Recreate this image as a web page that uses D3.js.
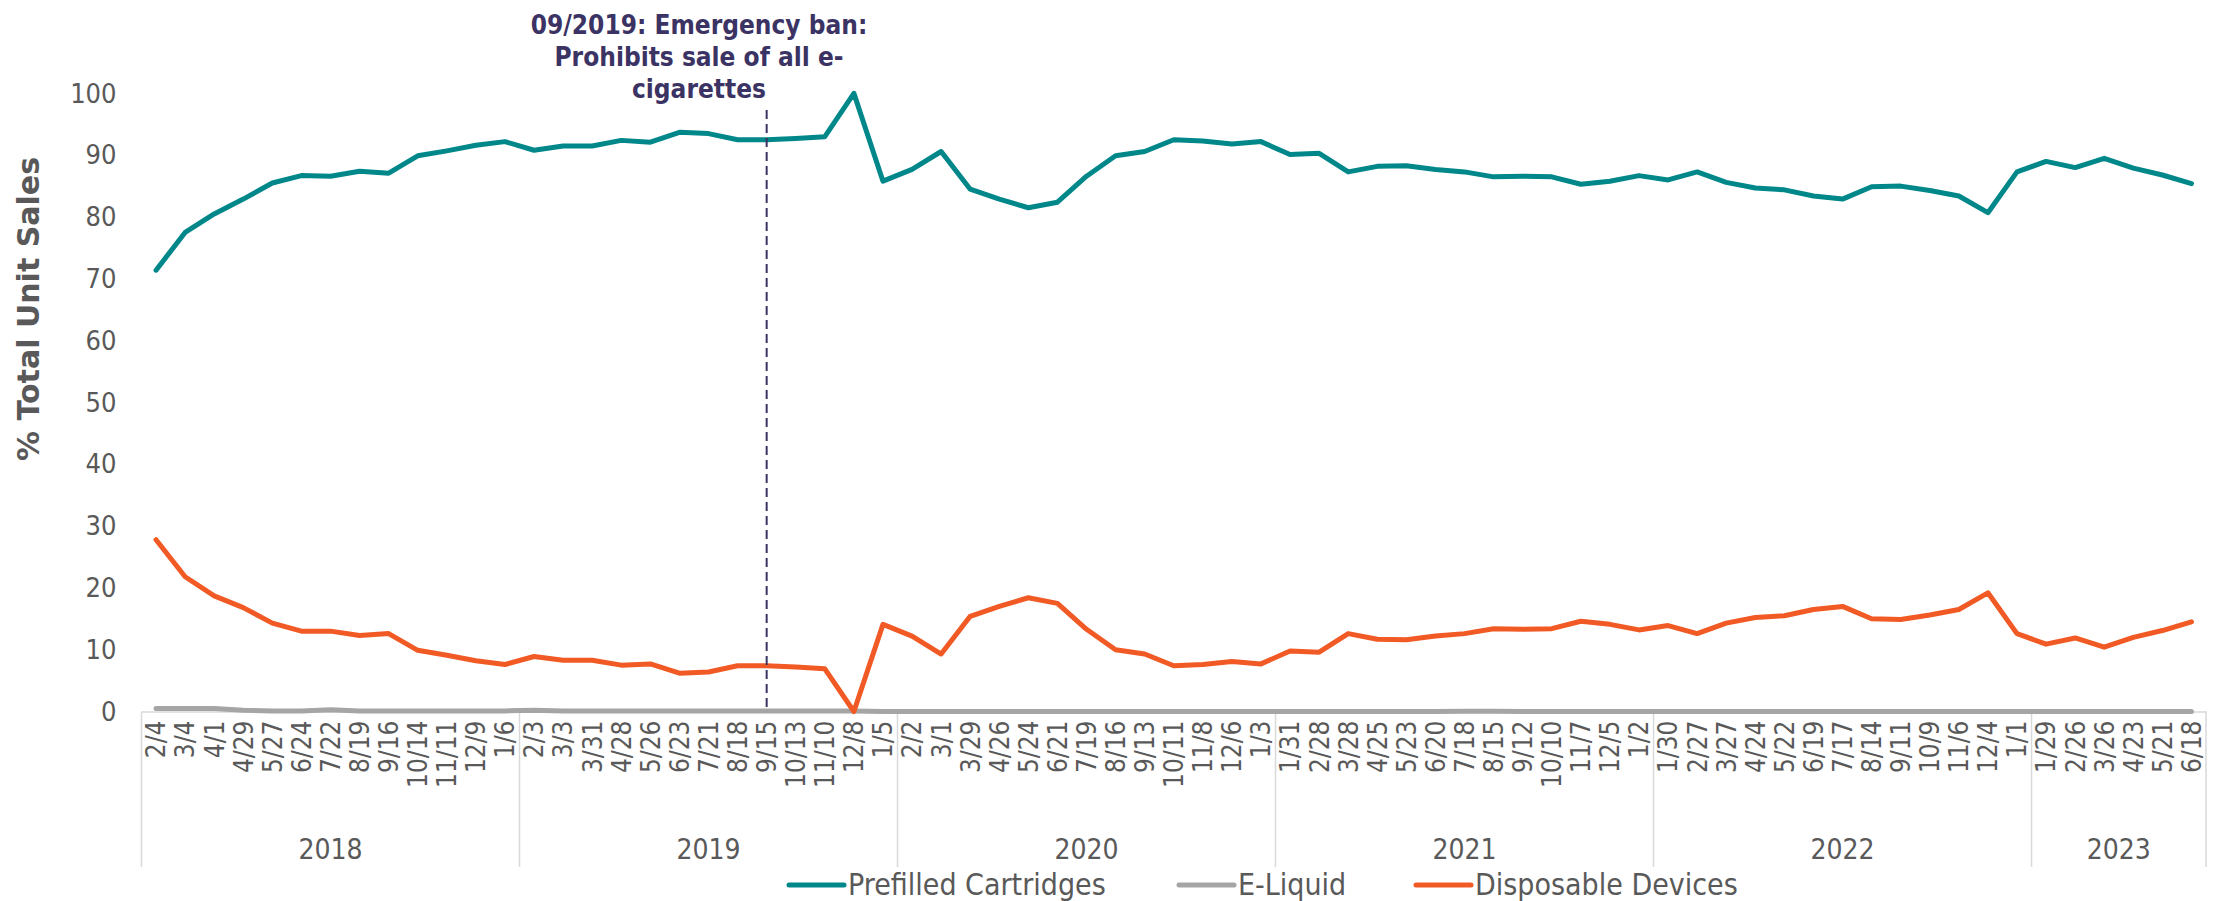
<!DOCTYPE html>
<html><head><meta charset="utf-8">
<script src="https://cdn.jsdelivr.net/npm/d3@7"></script>
<style>
body{margin:0;background:#fff}
svg{display:block}
text{font-family:"DejaVu Sans Condensed","DejaVu Sans",sans-serif;font-stretch:condensed}
</style></head><body>
<svg id="c" width="2218" height="901"></svg>
<script>
const periods = ["2/4","3/4","4/1","4/29","5/27","6/24","7/22","8/19","9/16","10/14","11/11","12/9","1/6",
"2/3","3/3","3/31","4/28","5/26","6/23","7/21","8/18","9/15","10/13","11/10","12/8","1/5",
"2/2","3/1","3/29","4/26","5/24","6/21","7/19","8/16","9/13","10/11","11/8","12/6","1/3",
"1/31","2/28","3/28","4/25","5/23","6/20","7/18","8/15","9/12","10/10","11/7","12/5","1/2",
"1/30","2/27","3/27","4/24","5/22","6/19","7/17","8/14","9/11","10/9","11/6","12/4","1/1",
"1/29","2/26","3/26","4/23","5/21","6/18"];
const yearGroups = ["2018","2019","2020","2021","2022","2023"];
const groupSizes = [13,13,13,13,13,6];
const yTicks = [0,10,20,30,40,50,60,70,80,90,100];
const seriesNames = ["Prefilled Cartridges","E-Liquid","Disposable Devices"];
const prefilled = [71.4,77.5,80.5,82.9,85.5,86.7,86.6,87.4,87.1,89.9,90.7,91.6,
92.2,90.8,91.5,91.5,92.4,92.1,93.7,93.5,92.5,92.5,92.7,93.0,100,
85.8,87.7,90.6,84.5,82.9,81.5,82.4,86.6,89.9,90.6,92.5,92.3,91.8,
92.2,90.1,90.3,87.3,88.2,88.3,87.7,87.3,86.5,86.6,86.5,85.3,85.8,
86.7,86.0,87.3,85.6,84.7,84.4,83.4,82.9,84.9,85.0,84.3,83.4,80.7,
87.3,89.0,88.0,89.5,87.9,86.8,85.4];
const eLiquid = [0.5,0.5,0.5,0.2,0.1,0.1,0.3,0.1,0.1,0.1,0.1,0.1,
0.1,0.2,0.1,0.1,0.1,0.1,0.1,0.1,0.1,0.1,0.1,0.1,0.1,
0,0,0,0,0,0,0,0,0,0,0,0,0,
0,0,0,0,0,0,0,0.05,0.05,0,0,0,0,
0,0,0,0,0,0,0,0,0,0,0,0,0,
0,0,0,0,0,0,0];
const disposable = [27.8,21.8,18.7,16.8,14.3,13.0,13.0,12.3,12.6,9.9,9.1,8.2,
7.6,8.9,8.3,8.3,7.5,7.7,6.2,6.4,7.4,7.4,7.2,6.9,0,
14.1,12.2,9.3,15.4,17.0,18.4,17.5,13.3,10.0,9.3,7.4,7.6,8.1,
7.7,9.8,9.6,12.6,11.7,11.6,12.2,12.6,13.4,13.3,13.4,14.6,14.1,
13.2,13.9,12.6,14.3,15.2,15.5,16.5,17.0,15.0,14.9,15.6,16.5,19.2,
12.6,10.9,11.9,10.4,12.0,13.1,14.5];
const annotationLines = ["09/2019: Emergency ban:","Prohibits sale of all e-","cigarettes"];
const annotationIndex = 21;

const colors = ["#00878A","#A5A5A5","#F15A24"];
const textColor = "#595959";
const svg = d3.select("#c");

const x = d3.scaleBand().domain(d3.range(periods.length)).range([141.5,2206]).padding(0);
const y = d3.scaleLinear().domain([0,100]).range([711.5,93.4]);
const cx = i => x(i) + x.bandwidth()/2;

// y axis
const ya = svg.append("g").attr("transform","translate(141.5,0)")
  .call(d3.axisLeft(y).tickValues(yTicks).tickSize(0).tickPadding(25));
ya.select(".domain").remove();
ya.selectAll("text").attr("fill",textColor).style("font-size","27px").attr("font-family",null).attr("font-size",null);

// x axis
const xa = svg.append("g").attr("transform","translate(0,711.5)")
  .call(d3.axisBottom(x).tickSize(0).tickSizeOuter(0).tickFormat(i=>periods[i]));
xa.select(".domain").attr("stroke","#d9d9d9").attr("stroke-width",1.5);
xa.selectAll("text").attr("fill",textColor).style("font-size","26px")
  .attr("font-family",null).attr("font-size",null)
  .attr("transform","rotate(-90)").attr("text-anchor","end")
  .attr("x",-9).attr("y",0).attr("dy","0.36em");

// group separators and year labels
let start = 0;
const bounds = [0];
groupSizes.forEach(s=>{start+=s;bounds.push(start);});
const bx = k => k < periods.length ? x(k) : x.range()[1];
svg.append("g").selectAll("line").data(bounds).join("line")
  .attr("x1",bx).attr("x2",bx).attr("y1",711.5).attr("y2",867)
  .attr("stroke","#d9d9d9").attr("stroke-width",1.5);
svg.append("g").selectAll("text").data(yearGroups).join("text")
  .attr("x",(d,k)=>(bx(bounds[k])+bx(bounds[k+1]))/2).attr("y",859)
  .attr("text-anchor","middle").attr("fill",textColor).style("font-size","28px").text(d=>d);

// y title
svg.append("text").attr("transform","translate(39,309) rotate(-90)")
  .attr("text-anchor","middle").attr("fill",textColor)
  .style("font-family","'DejaVu Sans',sans-serif").style("font-stretch","normal")
  .style("font-weight","bold").style("font-size","30px").text("% Total Unit Sales");

// lines
const line = d3.line().x((d,i)=>cx(i)).y(d=>y(d));
[prefilled,eLiquid,disposable].forEach((s,k)=>{
  svg.append("path").datum(s).attr("d",line).attr("fill","none")
    .attr("stroke",colors[k]).attr("stroke-width",5)
    .attr("stroke-linejoin","round").attr("stroke-linecap","round");
});

// annotation
svg.append("line").attr("x1",cx(annotationIndex)).attr("x2",cx(annotationIndex))
  .attr("y1",110).attr("y2",y(0)-3).attr("stroke","#3B3363").attr("stroke-width",2)
  .attr("stroke-dasharray","9,5");
svg.append("g").selectAll("text").data(annotationLines).join("text")
  .attr("x",699).attr("y",(d,k)=>34+k*32).attr("text-anchor","middle")
  .attr("fill","#3B3363").style("font-weight","bold").style("font-size","26px").text(d=>d);

// legend
const legX = [789,1179,1416];
const lg = svg.append("g");
seriesNames.forEach((n,k)=>{
  lg.append("line").attr("x1",legX[k]).attr("x2",legX[k]+55).attr("y1",885).attr("y2",885)
    .attr("stroke",colors[k]).attr("stroke-width",5).attr("stroke-linecap","round");
  lg.append("text").attr("x",legX[k]+59).attr("y",895).attr("fill",textColor)
    .style("font-size","30px").text(n);
});
</script></body></html>
